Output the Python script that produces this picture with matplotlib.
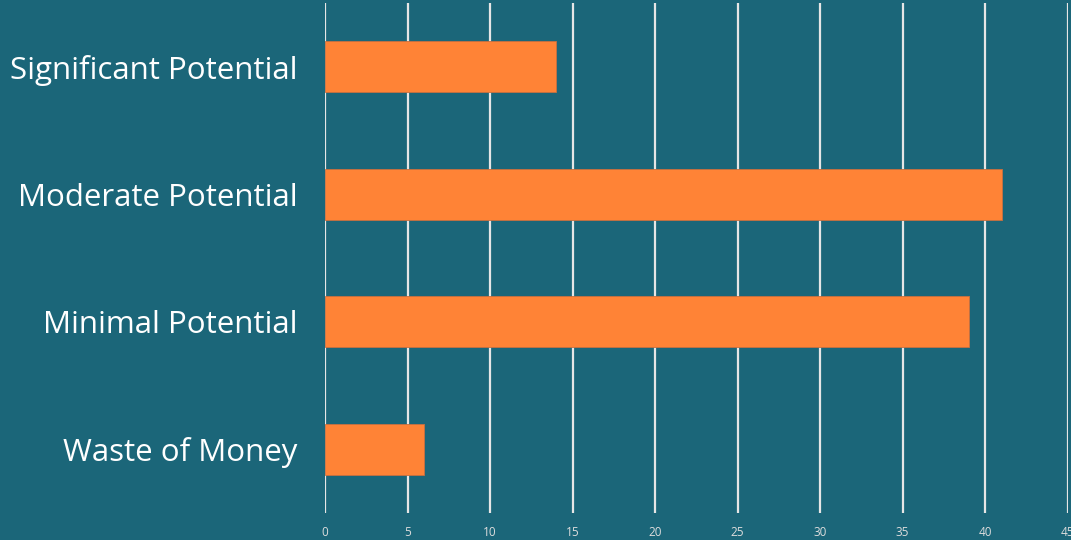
import matplotlib
matplotlib.use("Agg")
import matplotlib.pyplot as plt

categories = ["Significant Potential", "Moderate Potential", "Minimal Potential", "Waste of Money"]
values = [14, 41, 39, 6]
xticks = [0, 5, 10, 15, 20, 25, 30, 35, 40, 45]

BG = "#1b6679"
BAR = "#ff8336"
GRID = "#e6e6e6"

plt.rcParams['font.family'] = ['Open Sans', 'DejaVu Sans']

W, H = 1071, 540
fig = plt.figure(figsize=(W / 100, H / 100), dpi=100, facecolor=BG)
ax = fig.add_axes([325 / W, 1 - 513 / H, (1067.5 - 325) / W, 510 / H])
ax.set_facecolor(BG)

ypos = list(range(len(categories)))
ax.barh(ypos, values, height=0.4, color=BAR, edgecolor="#c87040", linewidth=0.6, zorder=3)
ax.set_ylim(len(categories) - 0.5, -0.5)
ax.set_xlim(0, 45)

ax.set_xticks(xticks)
ax.set_xticklabels([str(t) for t in xticks], fontsize=8.5, color="#dddddd")
ax.tick_params(axis="x", length=0, pad=9)
ax.set_yticks(ypos)
ax.set_yticklabels(categories, fontsize=22.5, color="white")
ax.tick_params(axis="y", length=0, pad=20)
ax.grid(axis="x", color=GRID, linewidth=1.6, zorder=1)
ax.grid(axis="y", visible=False)
for s in ax.spines.values():
    s.set_visible(False)

fig.savefig("out.png", dpi=100, facecolor=BG)
